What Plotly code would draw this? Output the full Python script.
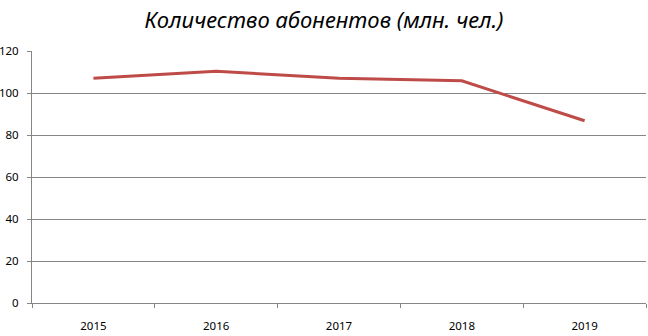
import plotly.graph_objects as go

years = ["2015", "2016", "2017", "2018", "2019"]
subscribers = [107, 110.3, 107, 105.8, 86.8]
y_ticks = [0, 20, 40, 60, 80, 100, 120]

fig = go.Figure()
fig.add_trace(go.Scatter(
    x=years, y=subscribers, mode="lines",
    line=dict(color="#BE4B48", width=3),
    hoverinfo="skip",
))

fig.update_layout(
    width=648, height=336,
    margin=dict(l=32, r=2, t=51, b=33),
    paper_bgcolor="white", plot_bgcolor="white",
    showlegend=False,
    title=dict(
        text="<i>Количество абонентов (млн. чел.)</i>",
        x=0.5, xanchor="center", y=0.94, yanchor="middle",
        font=dict(family="Noto Sans", size=22, color="black"),
    ),
    font=dict(family="Noto Sans", size=11.5, color="black"),
)

fig.update_xaxes(
    type="category", range=[-0.5, 4.5],
    tickson="boundaries", ticks="outside", ticklen=4, tickcolor="#868686",
    ticklabelstandoff=12, automargin=False,
    showline=True, linecolor="#868686", linewidth=1,
    showgrid=False, zeroline=False,
    tickfont=dict(size=11.5, color="black"),
)
fig.update_yaxes(
    range=[0, 120], tickvals=y_ticks,
    ticks="outside", ticklen=4, tickcolor="#868686",
    ticklabelstandoff=6, automargin=False,
    showline=True, linecolor="#868686", linewidth=1,
    showgrid=True, gridcolor="#868686", gridwidth=1,
    zeroline=False,
    tickfont=dict(size=11.5, color="black"),
)

fig.write_html("out.html")
